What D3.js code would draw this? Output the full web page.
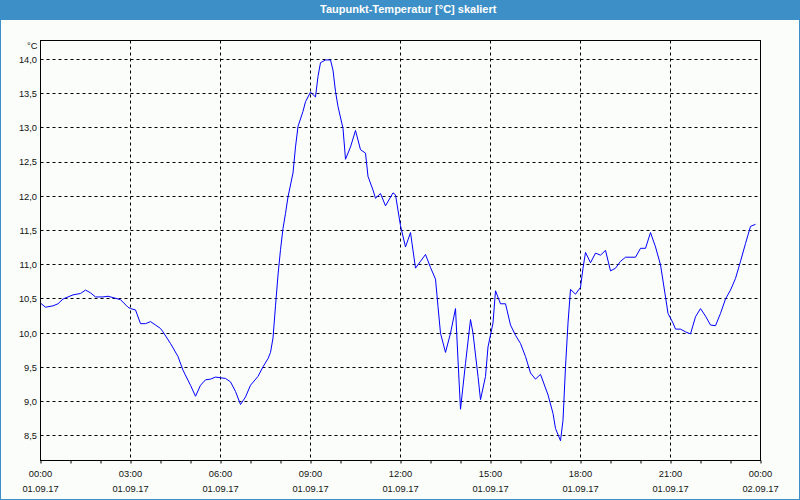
<!DOCTYPE html>
<html>
<head>
<meta charset="utf-8">
<script src="https://cdn.jsdelivr.net/npm/d3@7"></script>
<style>
  html, body { margin: 0; padding: 0; background: #fafdfa; }
  svg { display: block; }
  text { font-family: "Liberation Sans", Arial, sans-serif; }
</style>
</head>
<body>
<svg id="chart" width="800" height="500"></svg>
<script>
// ---- data ----
const title = "Taupunkt-Temperatur [°C] skaliert";
const unitLabel = "°C";
const times = [
  "00:00","00:10","00:25","00:35","00:45","00:55","01:05","01:20","01:30","01:40","01:50",
  "02:05","02:15","02:25","02:40","02:55","03:00","03:10","03:20","03:30","03:40","03:50",
  "04:00","04:05","04:20","04:35","04:45","05:00","05:10","05:20","05:30","05:40","05:50",
  "06:00","06:10","06:20","06:30","06:40","06:50","07:00","07:15","07:25","07:35","07:40",
  "07:45","07:50","07:55","08:00","08:05","08:10","08:15","08:25","08:30","08:35","08:45",
  "08:50","09:00","09:10","09:15","09:20","09:30","09:40","09:45","09:50","09:55","10:05",
  "10:10","10:20","10:30","10:40","10:50","10:55","11:05","11:10","11:20","11:30","11:45",
  "11:50","12:00","12:10","12:20","12:30","12:40","12:50","13:00","13:10","13:15","13:20",
  "13:30","13:40","13:50","13:55","14:00","14:10","14:20","14:25","14:35","14:40","14:50",
  "14:55","15:05","15:10","15:20","15:30","15:40","15:50","16:00","16:10","16:20","16:30",
  "16:40","16:55","17:05","17:10","17:20","17:25","17:30","17:35","17:40","17:50","18:00",
  "18:05","18:10","18:20","18:30","18:40","18:50","19:00","19:10","19:20","19:30","19:50",
  "20:00","20:10","20:20","20:30","20:40","20:50","20:55","21:05","21:10","21:20","21:30",
  "21:40","21:50","22:00","22:10","22:20","22:30","22:40","22:50","23:00","23:10","23:20",
  "23:30","23:40","23:50"
];
const dewPoint = [
  10.44,10.38,10.40,10.43,10.50,10.53,10.56,10.58,10.63,10.59,10.53,
  10.53,10.54,10.52,10.49,10.38,10.36,10.34,10.14,10.14,10.17,10.12,
  10.07,10.02,9.85,9.66,9.46,9.24,9.08,9.24,9.32,9.33,9.36,
  9.35,9.34,9.29,9.15,8.96,9.07,9.24,9.37,9.51,9.63,9.72,
  9.93,10.40,10.85,11.22,11.53,11.75,11.99,12.34,12.72,13.02,13.24,
  13.38,13.52,13.45,13.75,13.95,13.99,13.99,13.84,13.53,13.31,12.99,
  12.54,12.72,12.96,12.68,12.63,12.29,12.09,11.97,12.04,11.86,12.05,
  12.02,11.57,11.26,11.47,10.95,11.05,11.15,10.96,10.79,10.39,10.00,
  9.72,10.00,10.36,9.61,8.89,9.56,10.20,10.00,9.37,9.03,9.37,
  9.80,10.15,10.62,10.43,10.43,10.12,9.97,9.85,9.66,9.42,9.33,
  9.40,9.10,8.83,8.61,8.43,8.73,9.51,10.15,10.64,10.57,10.67,
  10.95,11.18,11.03,11.17,11.14,11.21,10.91,10.95,11.05,11.11,11.11,
  11.24,11.24,11.47,11.26,11.00,10.53,10.29,10.15,10.06,10.06,10.02,
  9.99,10.24,10.36,10.25,10.12,10.11,10.29,10.50,10.63,10.80,11.05,
  11.31,11.56,11.59
];
const yTicks = [8.5, 9.0, 9.5, 10.0, 10.5, 11.0, 11.5, 12.0, 12.5, 13.0, 13.5, 14.0];
const xTickTimes = ["00:00","03:00","06:00","09:00","12:00","15:00","18:00","21:00","00:00"];
const xTickDates = ["01.09.17","01.09.17","01.09.17","01.09.17","01.09.17","01.09.17","01.09.17","01.09.17","02.09.17"];
const yDomain = [8.142, 14.274];

// ---- layout ----
const W = 800, H = 500;
const plot = { left: 40.5, right: 760.5, top: 40.5, bottom: 460.5 };

const svg = d3.select("#chart");

// background + window border
svg.append("rect").attr("x", 0).attr("y", 0).attr("width", W).attr("height", H).attr("fill", "#fafdfa");
svg.append("rect").attr("x", 0.5).attr("y", 0.5).attr("width", W - 1).attr("height", H - 1)
  .attr("fill", "none").attr("stroke", "#3d8fc7").attr("stroke-width", 1);
// title bar
svg.append("rect").attr("x", 0).attr("y", 0).attr("width", W).attr("height", 20).attr("fill", "#3d8fc7");
svg.append("text").attr("x", 320).attr("y", 12.5).attr("fill", "#ffffff")
  .attr("font-size", "11px").attr("font-weight", "bold").text(title);

// scales
const start = new Date(2017, 8, 1, 0, 0);
const end = new Date(2017, 8, 2, 0, 0);
const x = d3.scaleTime().domain([start, end]).range([plot.left, plot.right]);
const y = d3.scaleLinear().domain(yDomain).range([plot.bottom, plot.top]);

function toDate(t) {
  const [h, m] = t.split(":").map(Number);
  return new Date(2017, 8, 1, h, m);
}
const data = times.map((t, i) => ({ t: toDate(t), v: dewPoint[i] }));

const snap = v => Math.round(v - 0.5) + 0.5;

// plot area
svg.append("rect").attr("x", plot.left).attr("y", plot.top)
  .attr("width", plot.right - plot.left).attr("height", plot.bottom - plot.top)
  .attr("fill", "#fafdfa");

// horizontal grid
svg.append("g").selectAll("line").data(yTicks).join("line")
  .attr("x1", plot.left).attr("x2", plot.right)
  .attr("y1", d => snap(y(d))).attr("y2", d => snap(y(d)))
  .attr("stroke", "#000").attr("stroke-width", 1).attr("stroke-dasharray", "3,3");

// vertical grid every 3 hours
const majorTicks = d3.timeHour.every(3).range(start, d3.timeMinute.offset(end, 1));
svg.append("g").selectAll("line").data(majorTicks.slice(1, -1)).join("line")
  .attr("x1", d => snap(x(d))).attr("x2", d => snap(x(d)))
  .attr("y1", plot.top).attr("y2", plot.bottom)
  .attr("stroke", "#000").attr("stroke-width", 1).attr("stroke-dasharray", "3,3");

// data line
const line = d3.line().x(d => x(d.t)).y(d => y(d.v));
svg.append("path").datum(data).attr("d", line)
  .attr("fill", "none").attr("stroke", "#0000ff").attr("stroke-width", 1);

// frame
svg.append("rect").attr("x", plot.left).attr("y", plot.top)
  .attr("width", plot.right - plot.left).attr("height", plot.bottom - plot.top)
  .attr("fill", "none").attr("stroke", "#000").attr("stroke-width", 1);

// x axis ticks (hourly) via d3 axis
const xAxis = d3.axisBottom(x).ticks(d3.timeHour.every(1)).tickSize(3).tickFormat("");
const gx = svg.append("g").attr("transform", `translate(0,${plot.bottom})`).call(xAxis);
gx.select(".domain").remove();
gx.selectAll(".tick line").attr("stroke", "#000").attr("transform", function () {
  return "translate(0.0,0)";
});

// x labels (two lines)
const xl = svg.append("g").attr("font-size", "9.3px").attr("fill", "#111").attr("text-anchor", "middle");
majorTicks.forEach((d, i) => {
  xl.append("text").attr("x", x(d)).attr("y", 477).text(xTickTimes[i]);
  xl.append("text").attr("x", x(d)).attr("y", 492).text(xTickDates[i]);
});

// y labels
const fmt = d3.format(".1f");
svg.append("g").attr("font-size", "9.3px").attr("fill", "#111").attr("text-anchor", "end")
  .selectAll("text").data(yTicks).join("text")
  .attr("x", 37).attr("y", d => y(d) + 3.4)
  .text(d => fmt(d).replace(".", ","));
svg.append("text").attr("x", 37.5).attr("y", 48.5).attr("font-size", "9.3px")
  .attr("fill", "#111").attr("text-anchor", "end").text(unitLabel);
</script>
</body>
</html>
